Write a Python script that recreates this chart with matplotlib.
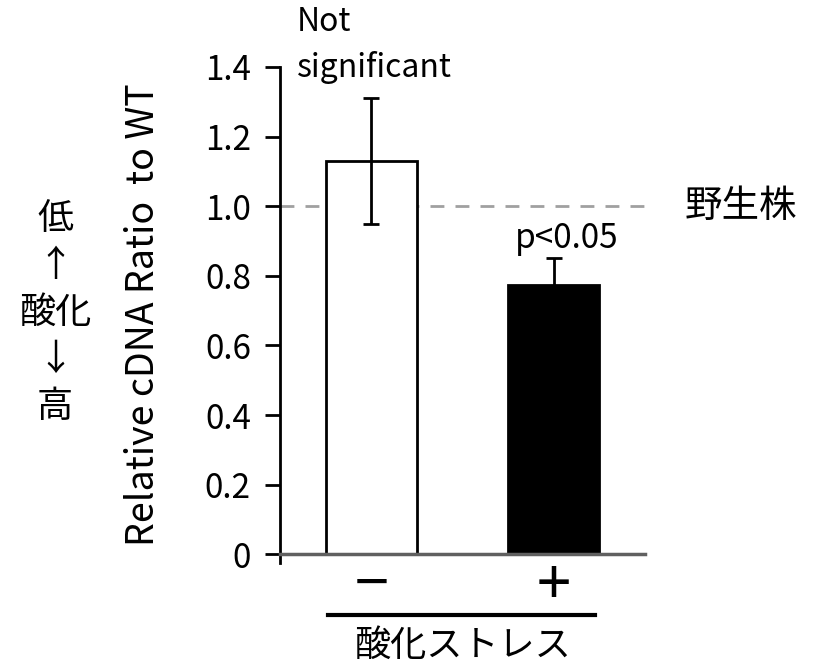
import matplotlib
matplotlib.use('Agg')
import matplotlib.pyplot as plt

plt.rcParams['font.family'] = ['Noto Sans CJK JP', 'DejaVu Sans']

# Dados
categorias = ['−', '+']
valores = [1.13, 0.775]
erros = [0.18, 0.075]
cores = ['white', 'black']
yticks = [0, 0.2, 0.4, 0.6, 0.8, 1.0, 1.2, 1.4]
ytick_labels = ['0', '0.2', '0.4', '0.6', '0.8', '1.0', '1.2', '1.4']

fig = plt.figure(figsize=(8.13, 6.69), dpi=100)
ax = fig.add_axes([280/813, 1 - 563/669, 365/813, 496/669])

x = [0, 1]
ax.bar(x, valores, width=0.5, color=cores, edgecolor='black', linewidth=2)
ax.errorbar(x, valores, yerr=erros, fmt='none', ecolor='black',
            elinewidth=2, capsize=6, capthick=2)

# Linha do tipo selvagem
ax.axhline(1.0, color='#a0a0a0', linestyle=(0, (5, 4)), linewidth=2, zorder=0)

# Eixos (posicao do spine antes dos ticks, senao os ticks sao resetados)
ax.spines['top'].set_visible(False)
ax.spines['right'].set_visible(False)
ax.spines['bottom'].set_position(('data', 0))
ax.spines['left'].set_linewidth(2)
ax.spines['left'].set_bounds(-0.025, 1.4)
ax.spines['bottom'].set_linewidth(2.5)
ax.spines['bottom'].set_color('#606060')

ax.set_xlim(-0.5, 1.5)
ax.set_ylim(-0.025, 1.4)
ax.set_yticks(yticks)
ax.set_yticklabels(ytick_labels, fontsize=24)
ax.set_xticks(x)
ax.set_xticklabels(categorias, fontsize=44)
ax.tick_params(axis='x', length=0, pad=1)
ax.tick_params(axis='y', direction='out', length=11, width=2, pad=10)

ax.set_ylabel('Relative cDNA Ratio  to WT', fontsize=27, labelpad=30)

# Anotacoes
fig.text(297/813, 1 - 22/669, 'Not', fontsize=23, ha='left', va='center')
fig.text(297/813, 1 - 68/669, 'significant', fontsize=23, ha='left', va='center')
fig.text(567/813, 1 - 238/669, 'p<0.05', fontsize=24, ha='center', va='center')

fig.text(685/813, 1 - 207/669, '野生株', fontsize=27, ha='left', va='center')
fig.text(55/813, 1 - 313/669, '低\n↑\n酸化\n↓\n高', fontsize=26, ha='center', va='center',
         linespacing=1.4)

# Barra de agrupamento
fig.add_artist(plt.Line2D([328/813, 595/813], [1 - 615/669, 1 - 615/669],
                          color='black', linewidth=3))
fig.text(462/813, 1 - 646/669, '酸化ストレス', fontsize=26, ha='center', va='center')

fig.savefig('out.png', dpi=100)
